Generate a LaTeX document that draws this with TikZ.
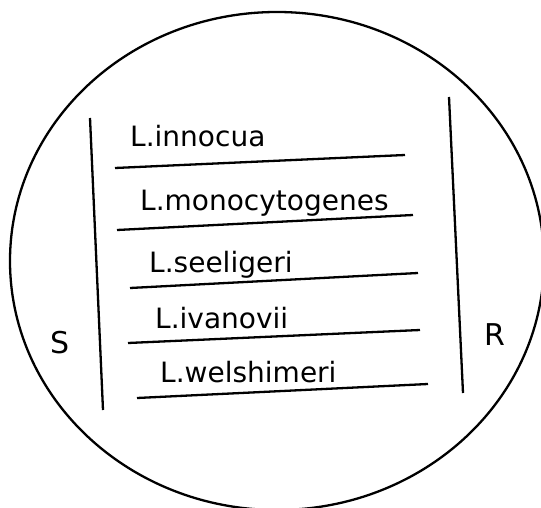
\documentclass[tikz,border=0pt]{standalone}
\usepackage{fontspec}
\setmainfont{DejaVu Sans}
\begin{document}
\begin{tikzpicture}[x=1pt,y=-1pt,
  ink/.style={line width=2.3pt,black},
  label/.style={font=\fontsize{28}{30}\selectfont,inner sep=0pt,anchor=base west},
  side/.style={font=\fontsize{30}{32}\selectfont,inner sep=0pt,anchor=base}]
\useasboundingbox (0,0) rectangle (541,508);
\clip (0,0) rectangle (541,508);
\fill[white] (0,0) rectangle (541,508);
% plate outline
\draw[ink] (277,261) ellipse [x radius=267, y radius=249];
% vertical streaks
\draw[ink] (90,118) -- (103,410);
\draw[ink] (449,97) -- (463,393);
% separating lines
\draw[ink] (115,168) -- (405,155);
\draw[ink] (117,230) -- (413,215);
\draw[ink] (130,288) -- (418,273);
\draw[ink] (128,343) -- (420,330);
\draw[ink] (137,398) -- (428,384);
% labels
\node[label] (inn) at (130,147) {L.innocua};
\node[label] (mon) at (140,210) {L.monocytogenes};
\node[label] (see) at (149,272) {L.seeligeri};
\node[label] (iva) at (155,328) {L.ivanovii};
\node[label] (wel) at (160,382) {L.welshimeri};
\node[side] (S) at (60,353) {S};
\node[side] (R) at (495,345) {R};
\end{tikzpicture}
\end{document}
